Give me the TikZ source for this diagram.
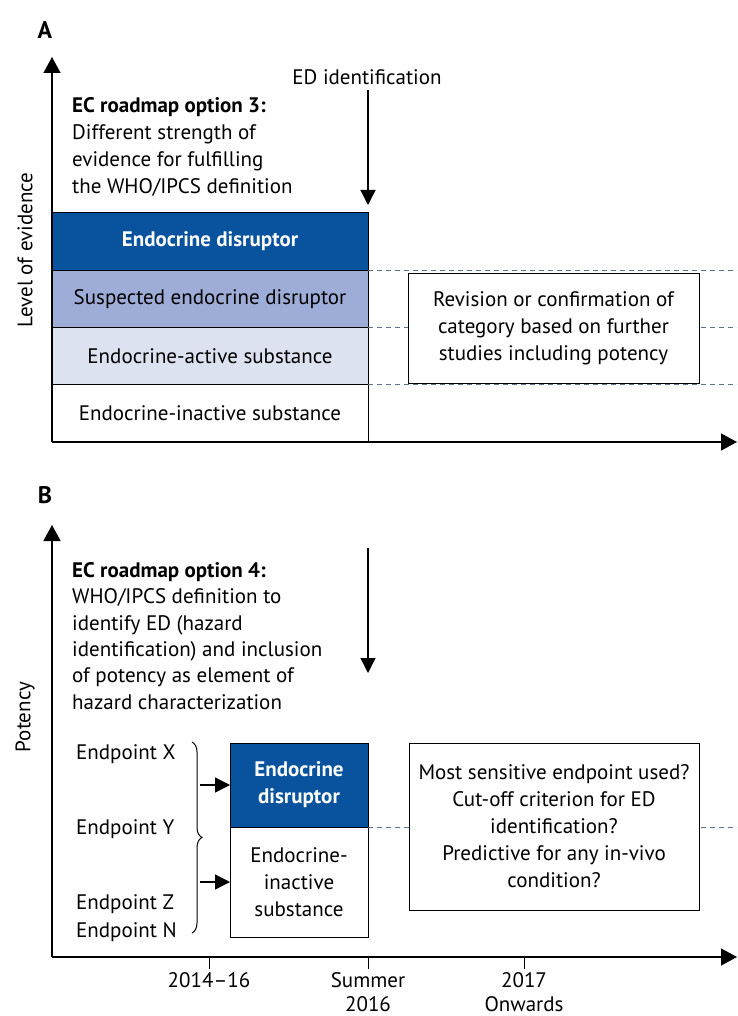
\documentclass[tikz,border=0pt]{standalone}
\usepackage{fontspec}
\setmainfont{PT Sans}
\usepackage{xcolor}
\usetikzlibrary{arrows.meta,positioning,decorations.pathreplacing}

\definecolor{edblue}{RGB}{8,82,158}
\definecolor{midblue}{RGB}{158,172,216}
\definecolor{paleblue}{RGB}{221,226,241}
\definecolor{dashgrey}{RGB}{90,115,140}

\newcommand{\txt}{\fontsize{21}{27}\selectfont}

\tikzset{
  axis/.style={line width=1.3pt,-{Triangle[length=16pt,width=17pt]}},
  ptr/.style={line width=1.3pt,-{Triangle[length=15pt,width=15pt]}},
  band/.style={draw,line width=1pt,minimum width=316pt,minimum height=57.25pt,
    inner sep=0pt,outer sep=0pt,align=center,font=\txt},
  smallbox/.style={draw,line width=1pt,minimum width=138pt,inner sep=0pt,
    outer sep=0pt,align=center,font=\txt},
  notebox/.style={draw,fill=white,line width=1pt,inner sep=0pt,align=center,font=\txt},
  guide/.style={dashgrey,dash pattern=on 5pt off 4pt,line width=0.8pt},
  lbl/.style={font=\txt,inner sep=0pt},
  panel/.style={font=\fontsize{24}{28}\selectfont\bfseries,inner sep=0pt},
}

\begin{document}
\begin{tikzpicture}[x=1pt,y=-1pt]
  \useasboundingbox (0,0) rectangle (737,1016);

  % A: level of evidence
  \node[panel] (labA) at (45,30) {A};
  \coordinate (oA) at (52,442);
  \coordinate (yA) at (52,57);
  \coordinate (xA) at (737,442);
  \node[lbl,rotate=90] (levA) at (25,250) {Level of evidence};
  \node[lbl,anchor=north west,align=left] (optA) at (72,97)
    {\textbf{EC roadmap option 3:}\\Different strength of\\evidence for fulfilling\\the WHO/IPCS definition};

  \node[band,fill=edblue,text=white,font=\txt\bfseries,anchor=north west] (ed) at (52,213) {Endocrine disruptor};
  \node[band,fill=midblue,below=0pt of ed] (sus) {Suspected endocrine disruptor};
  \node[band,fill=paleblue,below=0pt of sus] (act) {Endocrine-active substance};
  \node[band,fill=white,below=0pt of act] (inact) {Endocrine-inactive substance};

  \foreach \b in {ed,sus,act}
    \draw[guide] (\b.south east) -- (\b.south east -| xA);
  \node[notebox,minimum width=291pt,minimum height=110pt] (rev) at (553.5,328)
    {Revision or confirmation of\\category based on further\\studies including potency};

  \node[lbl,anchor=base] (edid) at (367,85) {ED identification};
  \coordinate (edtop) at (368,90);
  \coordinate (edtip) at (368,205);
  \draw[ptr] (edtop) -- (edtip);

  \draw[axis] (oA) -- (yA);
  \draw[axis] (oA) -- (xA);

  % B: potency
  \node[panel] (labB) at (45,495) {B};
  \coordinate (oB) at (52,957);
  \coordinate (yB) at (52,525);
  \coordinate (xB) at (737,957);
  \node[lbl,rotate=90] (pot) at (25,717) {Potency};
  \node[lbl,anchor=north west,align=left] (optB) at (72,562)
    {\textbf{EC roadmap option 4:}\\[-0.6pt]WHO/IPCS definition to\\[-0.6pt]identify ED (hazard\\[-0.6pt]identification) and inclusion\\[-0.6pt]of potency as element of\\[-0.6pt]hazard characterization};

  \coordinate (bdtop) at (368,548);
  \coordinate (bdtip) at (368,673);
  \draw[ptr] (bdtop) -- (bdtip);

  \node[smallbox,fill=edblue,text=white,font=\txt\bfseries,minimum height=84pt] (edB) at (299,785) {Endocrine\\disruptor};
  \node[smallbox,fill=white,minimum height=110pt,below=0pt of edB] (inB) {Endocrine-\\inactive\\substance};

  \draw[guide] (edB.south east) -- (edB.south east -| xB);
  \node[notebox,minimum width=290pt,minimum height=167pt] (qs) at (554,826.5)
    {Most sensitive endpoint used?\\Cut-off criterion for ED\\identification?\\Predictive for any in-vivo\\condition?};

  \node[lbl,anchor=base west] (epX) at (76,759) {Endpoint X};
  \node[lbl,anchor=base west] (epY) at (76,834) {Endpoint Y};
  \node[lbl,anchor=base west] (epZ) at (76,909) {Endpoint Z};
  \node[lbl,anchor=base west] (epN) at (76,937) {Endpoint N};
  \draw[line width=1pt,decorate,decoration={brace,amplitude=10pt}] (192,742) -- (192,933);

  \coordinate (inX) at (200,785);
  \coordinate (inZ) at (200,882);
  \draw[ptr] (inX) -- (edB.west);
  \draw[ptr] (inZ) -- (inB.west);

  \draw[axis] (oB) -- (yB);
  \draw[axis] (oB) -- (xB);
  \foreach \x/\t [count=\i] in {209/2014--16,368/{Summer\\[-3pt]2016},524/{2017\\[-3pt]Onwards}} {
    \draw[line width=1pt] (\x,957) -- (\x,969);
    \node[lbl,align=center,anchor=north] (tk\i) at (\x,972) {\t};
  }
\end{tikzpicture}
\end{document}
